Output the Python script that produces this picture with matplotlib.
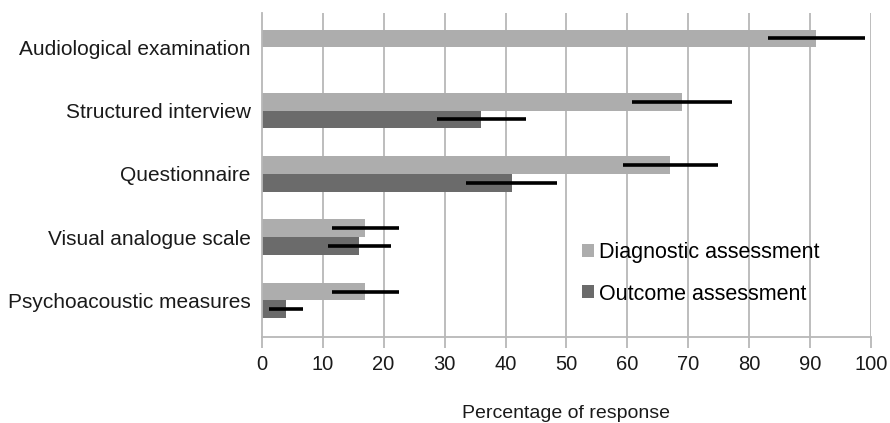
import matplotlib
matplotlib.use("Agg")
import matplotlib.pyplot as plt
import numpy as np

plt.rcParams['font.family'] = ['Liberation Sans', 'DejaVu Sans']

categories = ['Audiological examination', 'Structured interview', 'Questionnaire',
              'Visual analogue scale', 'Psychoacoustic measures']
diagnostic = [91, 69, 67, 17, 17]
diagnostic_err = [8, 8.2, 7.8, 5.5, 5.5]
outcome = [np.nan, 36, 41, 16, 4]
outcome_err = [np.nan, 7.3, 7.5, 5.2, 2.8]
xticks = list(range(0, 101, 10))

light = '#ADADAD'
dark = '#6B6B6B'
grid_c = '#B8B8B8'

fig = plt.figure(figsize=(8.9, 4.23), dpi=100)
ax = fig.add_axes([0.294, 0.203, 0.685, 0.766])

y = np.arange(len(categories))
h = 0.28
err_kw = dict(ecolor='black', elinewidth=2.6, capsize=0)

# vertical grid lines first so bars sit on top
for t in xticks[1:]:
    ax.axvline(t, color=grid_c, lw=1.3, zorder=0)

ax.barh(y - h / 2, diagnostic, height=h, color=light, xerr=diagnostic_err,
        error_kw=err_kw, label='Diagnostic assessment', zorder=2)

mask = ~np.isnan(np.array(outcome, dtype=float))
ax.barh(y[mask] + h / 2, np.array(outcome)[mask], height=h, color=dark,
        xerr=np.array(outcome_err)[mask], error_kw=err_kw,
        label='Outcome assessment', zorder=2)

ax.set_ylim(4.58, -0.54)
ax.set_xlim(0, 100)
ax.set_yticks(y)
ax.set_yticklabels(categories, fontsize=15, color='#1a1a1a')
ax.tick_params(axis='y', length=0, pad=8)

ax.set_xticks(xticks)
ax.tick_params(axis='x', length=8, width=1.3, color=grid_c, pad=5,
               labelsize=14.5, labelcolor='#1a1a1a')
ax.set_xlabel('Percentage of response', fontsize=14, color='#1a1a1a', labelpad=22)

for s in ['top', 'right']:
    ax.spines[s].set_visible(False)
for s in ['left', 'bottom']:
    ax.spines[s].set_color(grid_c)
    ax.spines[s].set_linewidth(1.3)

ax.legend(loc='lower left', bbox_to_anchor=(0.511, 0.074), frameon=False,
          fontsize=15.5, handlelength=0.55, handleheight=0.55, handletextpad=0.25,
          labelspacing=0.95, borderaxespad=0)

fig.savefig('out.png', dpi=100, facecolor='white')
